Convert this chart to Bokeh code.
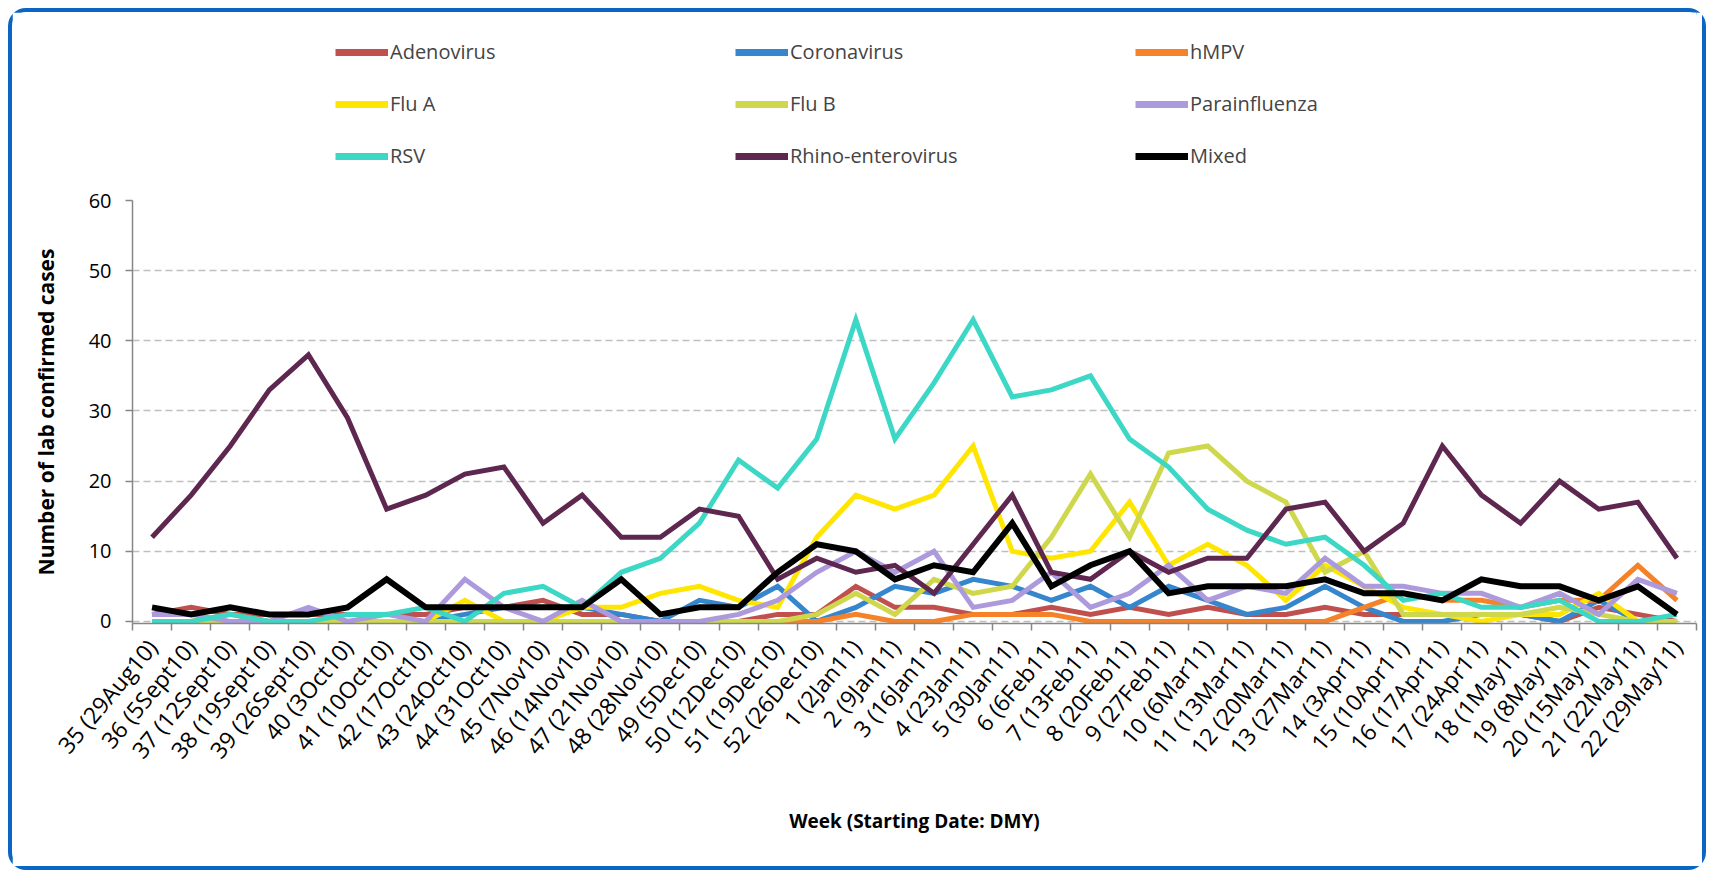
from math import radians
from bokeh.plotting import figure
from bokeh.layouts import column
from bokeh.models import ColumnDataSource, FixedTicker, Legend, LegendItem, Range1d
from bokeh.embed import file_html
from bokeh.resources import INLINE

weeks = ["35 (29Aug10)", "36 (5Sept10)", "37 (12Sept10)", "38 (19Sept10)", "39 (26Sept10)",
         "40 (3Oct10)", "41 (10Oct10)", "42 (17Oct10)", "43 (24Oct10)", "44 (31Oct10)",
         "45 (7Nov10)", "46 (14Nov10)", "47 (21Nov10)", "48 (28Nov10)", "49 (5Dec10)",
         "50 (12Dec10)", "51 (19Dec10)", "52 (26Dec10)", "1 (2Jan11)", "2 (9Jan11)",
         "3 (16Jan11)", "4 (23Jan11)", "5 (30Jan11)", "6 (6Feb11)", "7 (13Feb11)",
         "8 (20Feb11)", "9 (27Feb11)", "10 (6Mar11)", "11 (13Mar11)", "12 (20Mar11)",
         "13 (27Mar11)", "14 (3Apr11)", "15 (10Apr11)", "16 (17Apr11)", "17 (24Apr11)",
         "18 (1May11)", "19 (8May11)", "20 (15May11)", "21 (22May11)", "22 (29May11)"]

adenovirus = [1, 2, 1, 1, 1, 1, 1, 1, 2, 2, 3, 1, 1, 0, 0, 0, 1, 1, 5, 2,
              2, 1, 1, 2, 1, 2, 1, 2, 1, 1, 2, 1, 1, 1, 1, 1, 0, 2, 1, 0]
coronavirus = [0, 0, 0, 0, 0, 0, 0, 0, 1, 2, 2, 2, 1, 0, 3, 2, 5, 0, 2, 5,
               4, 6, 5, 3, 5, 2, 5, 3, 1, 2, 5, 2, 0, 0, 1, 1, 0, 3, 0, 0]
hmpv = [0, 0, 1, 0, 0, 0, 0, 0, 0, 0, 0, 0, 0, 0, 0, 0, 0, 0, 1, 0,
        0, 1, 1, 1, 0, 0, 0, 0, 0, 0, 0, 2, 4, 3, 3, 2, 3, 3, 8, 3]
flu_a = [0, 0, 0, 0, 0, 0, 0, 0, 3, 0, 0, 2, 2, 4, 5, 3, 2, 12, 18, 16,
         18, 25, 10, 9, 10, 17, 8, 11, 8, 3, 8, 5, 2, 1, 0, 1, 1, 4, 0, 0]
flu_b = [0, 0, 0, 0, 0, 0, 0, 0, 0, 0, 0, 0, 0, 0, 0, 0, 0, 1, 4, 1,
         6, 4, 5, 12, 21, 12, 24, 25, 20, 17, 7, 10, 1, 1, 1, 1, 2, 1, 0, 0]
parainfluenza = [1, 1, 0, 0, 2, 0, 1, 0, 6, 2, 0, 3, 0, 0, 0, 1, 3, 7, 10, 7,
                 10, 2, 3, 7, 2, 4, 8, 3, 5, 4, 9, 5, 5, 4, 4, 2, 4, 1, 6, 4]
rsv = [0, 0, 1, 0, 0, 1, 1, 2, 0, 4, 5, 2, 7, 9, 14, 23, 19, 26, 43, 26,
       34, 43, 32, 33, 35, 26, 22, 16, 13, 11, 12, 8, 3, 4, 2, 2, 3, 0, 0, 1]
rhino_enterovirus = [12, 18, 25, 33, 38, 29, 16, 18, 21, 22, 14, 18, 12, 12, 16, 15, 6, 9, 7, 8,
                     4, 11, 18, 7, 6, 10, 7, 9, 9, 16, 17, 10, 14, 25, 18, 14, 20, 16, 17, 9]
mixed = [2, 1, 2, 1, 1, 2, 6, 2, 2, 2, 2, 2, 6, 1, 2, 2, 7, 11, 10, 6,
         8, 7, 14, 5, 8, 10, 4, 5, 5, 5, 6, 4, 4, 3, 6, 5, 5, 3, 5, 1]

series_names = ["Adenovirus", "Coronavirus", "hMPV", "Flu A", "Flu B", "Parainfluenza",
                "RSV", "Rhino-enterovirus", "Mixed"]
series_values = [adenovirus, coronavirus, hmpv, flu_a, flu_b, parainfluenza,
                 rsv, rhino_enterovirus, mixed]
colors = ["#C0504D", "#3586CD", "#F58229", "#FFE600", "#CFD84C", "#AD9ADC",
          "#3DD7C6", "#5E2750", "#000000"]
widths = [5, 5, 5, 5, 5, 5, 5, 5, 6]

FONT = "Open Sans"
GRAY = "#868686"

x = list(range(len(weeks)))
data = {"x": x}
for name, vals in zip(series_names, series_values):
    data[name] = vals
source = ColumnDataSource(data)

W = 1690
# ---------- legend strip (frames are aligned with the chart below) ----------
leg = figure(width=W, height=170, output_backend="svg", toolbar_location=None,
             x_range=Range1d(-0.5, len(weeks) - 0.5), y_range=Range1d(100, 101),
             min_border=0, x_axis_location=None, y_axis_location=None)
leg.outline_line_color = None
leg.xgrid.visible = False
leg.ygrid.visible = False

items = []
for name, col in zip(series_names, colors):
    key = leg.line(x="x", y=name, source=source, line_color=col, line_width=7,
                   visible=False)
    items.append(LegendItem(label=name, renderers=[key]))

legend = Legend(items=items, orientation="horizontal", ncols=3,
                location=(203, 13), padding=0, margin=0, spacing=25,
                glyph_width=53, glyph_height=22, label_height=22,
                label_width=320, label_standoff=2, click_policy="none",
                label_text_font=FONT, label_text_font_size="20px",
                border_line_color=None, background_fill_alpha=0)
leg.add_layout(legend, "center")

# ---------- main chart ----------
p = figure(width=W, height=684, output_backend="svg", toolbar_location=None,
           x_range=Range1d(-0.5, len(weeks) - 0.5), y_range=Range1d(-0.3, 60),
           min_border_left=120, min_border_right=6, min_border_top=18,
           min_border_bottom=243)
p.outline_line_color = None

for name, col, w in zip(series_names, colors, widths):
    p.line(x="x", y=name, source=source, line_color=col, line_width=w,
           line_join="miter")

p.xgrid.grid_line_color = None
p.ygrid.grid_line_color = "#BFBFBF"
p.ygrid.grid_line_width = 1.5
p.ygrid.grid_line_dash = "7 4"

p.yaxis.ticker = FixedTicker(ticks=list(range(0, 61, 10)))
p.yaxis.axis_line_color = GRAY
p.yaxis.axis_line_width = 1.5
p.yaxis.major_tick_line_color = GRAY
p.yaxis.major_tick_line_width = 1.5
p.yaxis.major_tick_out = 7
p.yaxis.major_tick_in = 0
p.yaxis.minor_tick_line_color = None
p.yaxis.major_label_standoff = 14
p.yaxis.major_label_text_font = FONT
p.yaxis.major_label_text_font_size = "20px"
p.yaxis.major_label_text_color = "#000000"
p.yaxis.axis_label = "Number of lab confirmed cases"
p.yaxis.axis_label_text_font = FONT
p.yaxis.axis_label_text_font_size = "21px"
p.yaxis.axis_label_text_font_style = "bold"
p.yaxis.axis_label_text_color = "#000000"
p.yaxis.axis_label_standoff = 26

p.xaxis.ticker = FixedTicker(ticks=x, minor_ticks=[i - 0.5 for i in range(len(weeks) + 1)])
p.xaxis.major_label_overrides = {i: w for i, w in zip(x, weeks)}
p.xaxis.major_label_orientation = radians(50)
p.xaxis.major_label_text_font = FONT
p.xaxis.major_label_text_font_size = "23px"
p.xaxis.major_label_text_color = "#000000"
p.xaxis.major_tick_line_color = None
p.xaxis.minor_tick_line_color = GRAY
p.xaxis.minor_tick_line_width = 1.5
p.xaxis.minor_tick_out = 7
p.xaxis.minor_tick_in = 0
p.xaxis.axis_line_color = GRAY
p.xaxis.axis_line_width = 1.5
p.xaxis.major_label_standoff = 12
p.xaxis.axis_label = "Week (Starting Date: DMY)"
p.xaxis.axis_label_text_font = FONT
p.xaxis.axis_label_text_font_size = "19px"
p.xaxis.axis_label_text_font_style = "bold"
p.xaxis.axis_label_text_color = "#000000"
p.xaxis.axis_label_standoff = 30

layout = column(leg, p, spacing=0)
layout.styles = {"border": "4px solid #0A66C2", "border-radius": "18px",
                 "margin": "8px 0px 0px 8px"}

open("out.html", "w").write(file_html(layout, INLINE))
